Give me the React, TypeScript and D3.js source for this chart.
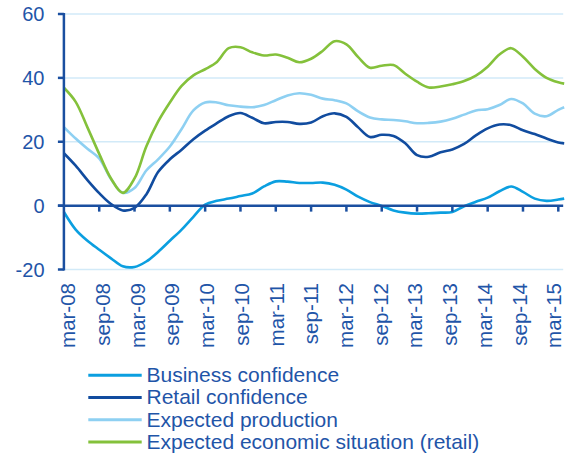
import React from "react";
import * as d3 from "d3";

// month offsets from mar-08 for each sample
const sampleMonths: number[] = [...d3.range(0, 86, 2), 85];

const businessConfidence = [
  -2, -7.5, -11, -13.8, -16.5, -19, -19.2, -17.5, -14.5, -11, -7.5, -3.5, 0.3, 1.5, 2.2, 3, 3.8, 6, 7.6, 7.5,
  7.1, 7.1, 7.2, 6.5, 5, 2.8, 1.1, -0.1, -1.5, -2.2, -2.5, -2.4, -2.2, -2, -0.2, 1.2, 2.5, 4.5, 6, 4.3,
  2.2, 1.5, 1.9, 2.2,
];
const retailConfidence = [
  16.4, 12.5, 8, 3.9, 0.5, -1.5, -0.7, 3.5, 10.5, 14.5, 17.5, 20.8, 23.5, 25.8, 28, 29, 27.5, 25.8, 26.2, 26.2,
  25.6, 26, 28, 28.9, 27.8, 24.5, 21.5, 22.2, 21.8, 19.5, 15.8, 15.3, 16.7, 17.6, 19.3, 22, 24.2, 25.4, 25.2, 23.6,
  22.4, 21, 19.8, 19.5,
];
const expectedProduction = [
  24.6, 21, 17.8, 14.8, 8.3, 4, 5.5, 11, 14.5, 18.5, 24, 29.8, 32.3, 32.3, 31.4, 31, 30.8, 31.5, 33, 34.5,
  35.2, 34.7, 33.5, 33, 32, 29.5, 27.6, 27, 26.8, 26.4, 25.8, 25.9, 26.3, 27.2, 28.5, 29.8, 30.2, 31.5, 33.4, 32,
  28.8, 28, 30, 30.8,
];
const expectedEconomic = [
  36.9, 32.5, 24.5, 16.2, 8.5, 4, 8.5, 18.5, 26.3, 32.3, 37.5, 40.8, 42.7, 45, 49.3, 49.6, 48, 47, 47.3, 46.3,
  44.9, 46, 48.5, 51.5, 50.5, 46.5, 43.2, 43.8, 44, 41.3, 38.8, 37, 37.3, 38, 39, 40.7, 43.5, 47.3, 49.3, 46.6,
  42.8, 40, 38.6, 38.2,
];

const tickLabels = [
  "mar-08", "sep-08", "mar-09", "sep-09", "mar-10", "sep-10", "mar-11", "sep-11",
  "mar-12", "sep-12", "mar-13", "sep-13", "mar-14", "sep-14", "mar-15",
];
const yTicks = [60, 40, 20, 0, -20];

const seriesNames = [
  "Business confidence",
  "Retail confidence",
  "Expected production",
  "Expected economic situation (retail)",
];
const seriesValues = [businessConfidence, retailConfidence, expectedProduction, expectedEconomic];
const seriesColors = ["#0b9fe0", "#114c9f", "#8ed0f2", "#84c13b"];
const drawOrder = [2, 1, 3, 0];

const AXIS = "#1a4fa0";
const TEXT = "#1f55a8";
const GRID = "#d2eaf8";
const FONT = "'Liberation Sans', Arial, sans-serif";

export default function App() {
  const W = 571;
  const H = 456;
  const x0 = 63.9;
  const x = d3.scaleLinear().domain([0, 84]).range([x0, 558.3]);
  const y = d3.scaleLinear().domain([-20, 60]).range([269.5, 14]);
  const xEnd = x(85) - 1;
  // label band (labels are spread slightly narrower than the ticks)
  const xLabel = d3.scalePoint<string>().domain(tickLabels).range([67.9, 554.2]);

  const line = d3
    .line<[number, number]>()
    .x((d) => x(d[0]))
    .y((d) => y(d[1]))
    .curve(d3.curveCatmullRom.alpha(0.5));

  const tickMonths = tickLabels.map((_, i) => i * 6);

  return (
    <svg
      width={W}
      height={H}
      style={{ position: "absolute", left: 0, top: 0, display: "block", background: "#fff" }}
      fontFamily={FONT}
    >
      {yTicks
        .filter((t) => t !== 0)
        .map((t) => (
          <line key={"g" + t} x1={x0} x2={xEnd} y1={y(t)} y2={y(t)} stroke={GRID} strokeWidth={1.5} />
        ))}
      {drawOrder.map((si) => (
        <path
          key={seriesNames[si]}
          d={line(sampleMonths.map((m, i) => [m, seriesValues[si][i]] as [number, number])) || ""}
          fill="none"
          stroke={seriesColors[si]}
          strokeWidth={2.6}
          strokeLinejoin="round"
        />
      ))}
      <line x1={x0} x2={x0} y1={y(60) - 1} y2={y(-20) + 1} stroke={AXIS} strokeWidth={2.5} />
      {yTicks.map((t) => (
        <g key={"yt" + t}>
          <line x1={x0 - 6} x2={x0} y1={y(t)} y2={y(t)} stroke={AXIS} strokeWidth={2.5} />
          <text x={44.5} y={y(t)} textAnchor="end" dominantBaseline="central" fontSize={20} fill={TEXT}>
            {t}
          </text>
        </g>
      ))}
      <line x1={x0 - 6} x2={xEnd} y1={y(0)} y2={y(0)} stroke={AXIS} strokeWidth={2.5} />
      {tickMonths.map((m, i) =>
        i > 0 ? (
          <line key={"xt" + i} x1={x(m)} x2={x(m)} y1={y(0)} y2={y(0) + 6} stroke={AXIS} strokeWidth={2.5} />
        ) : null
      )}
      {tickLabels.map((lab) => (
        <text
          key={"xl" + lab}
          transform={`translate(${(xLabel(lab) as number) + 7.2},283) rotate(-90)`}
          textAnchor="end"
          fontSize={20.5}
          fill={TEXT}
        >
          {lab}
        </text>
      ))}
      {seriesNames.map((name, i) => {
        const ly = 375.3 + i * 22.2;
        return (
          <g key={"lg" + name}>
            <line x1={88.3} x2={141.7} y1={ly} y2={ly} stroke={seriesColors[i]} strokeWidth={3} />
            <text x={146.5} y={ly + 6.8} fontSize={21} fill={TEXT}>
              {name}
            </text>
          </g>
        );
      })}
    </svg>
  );
}
